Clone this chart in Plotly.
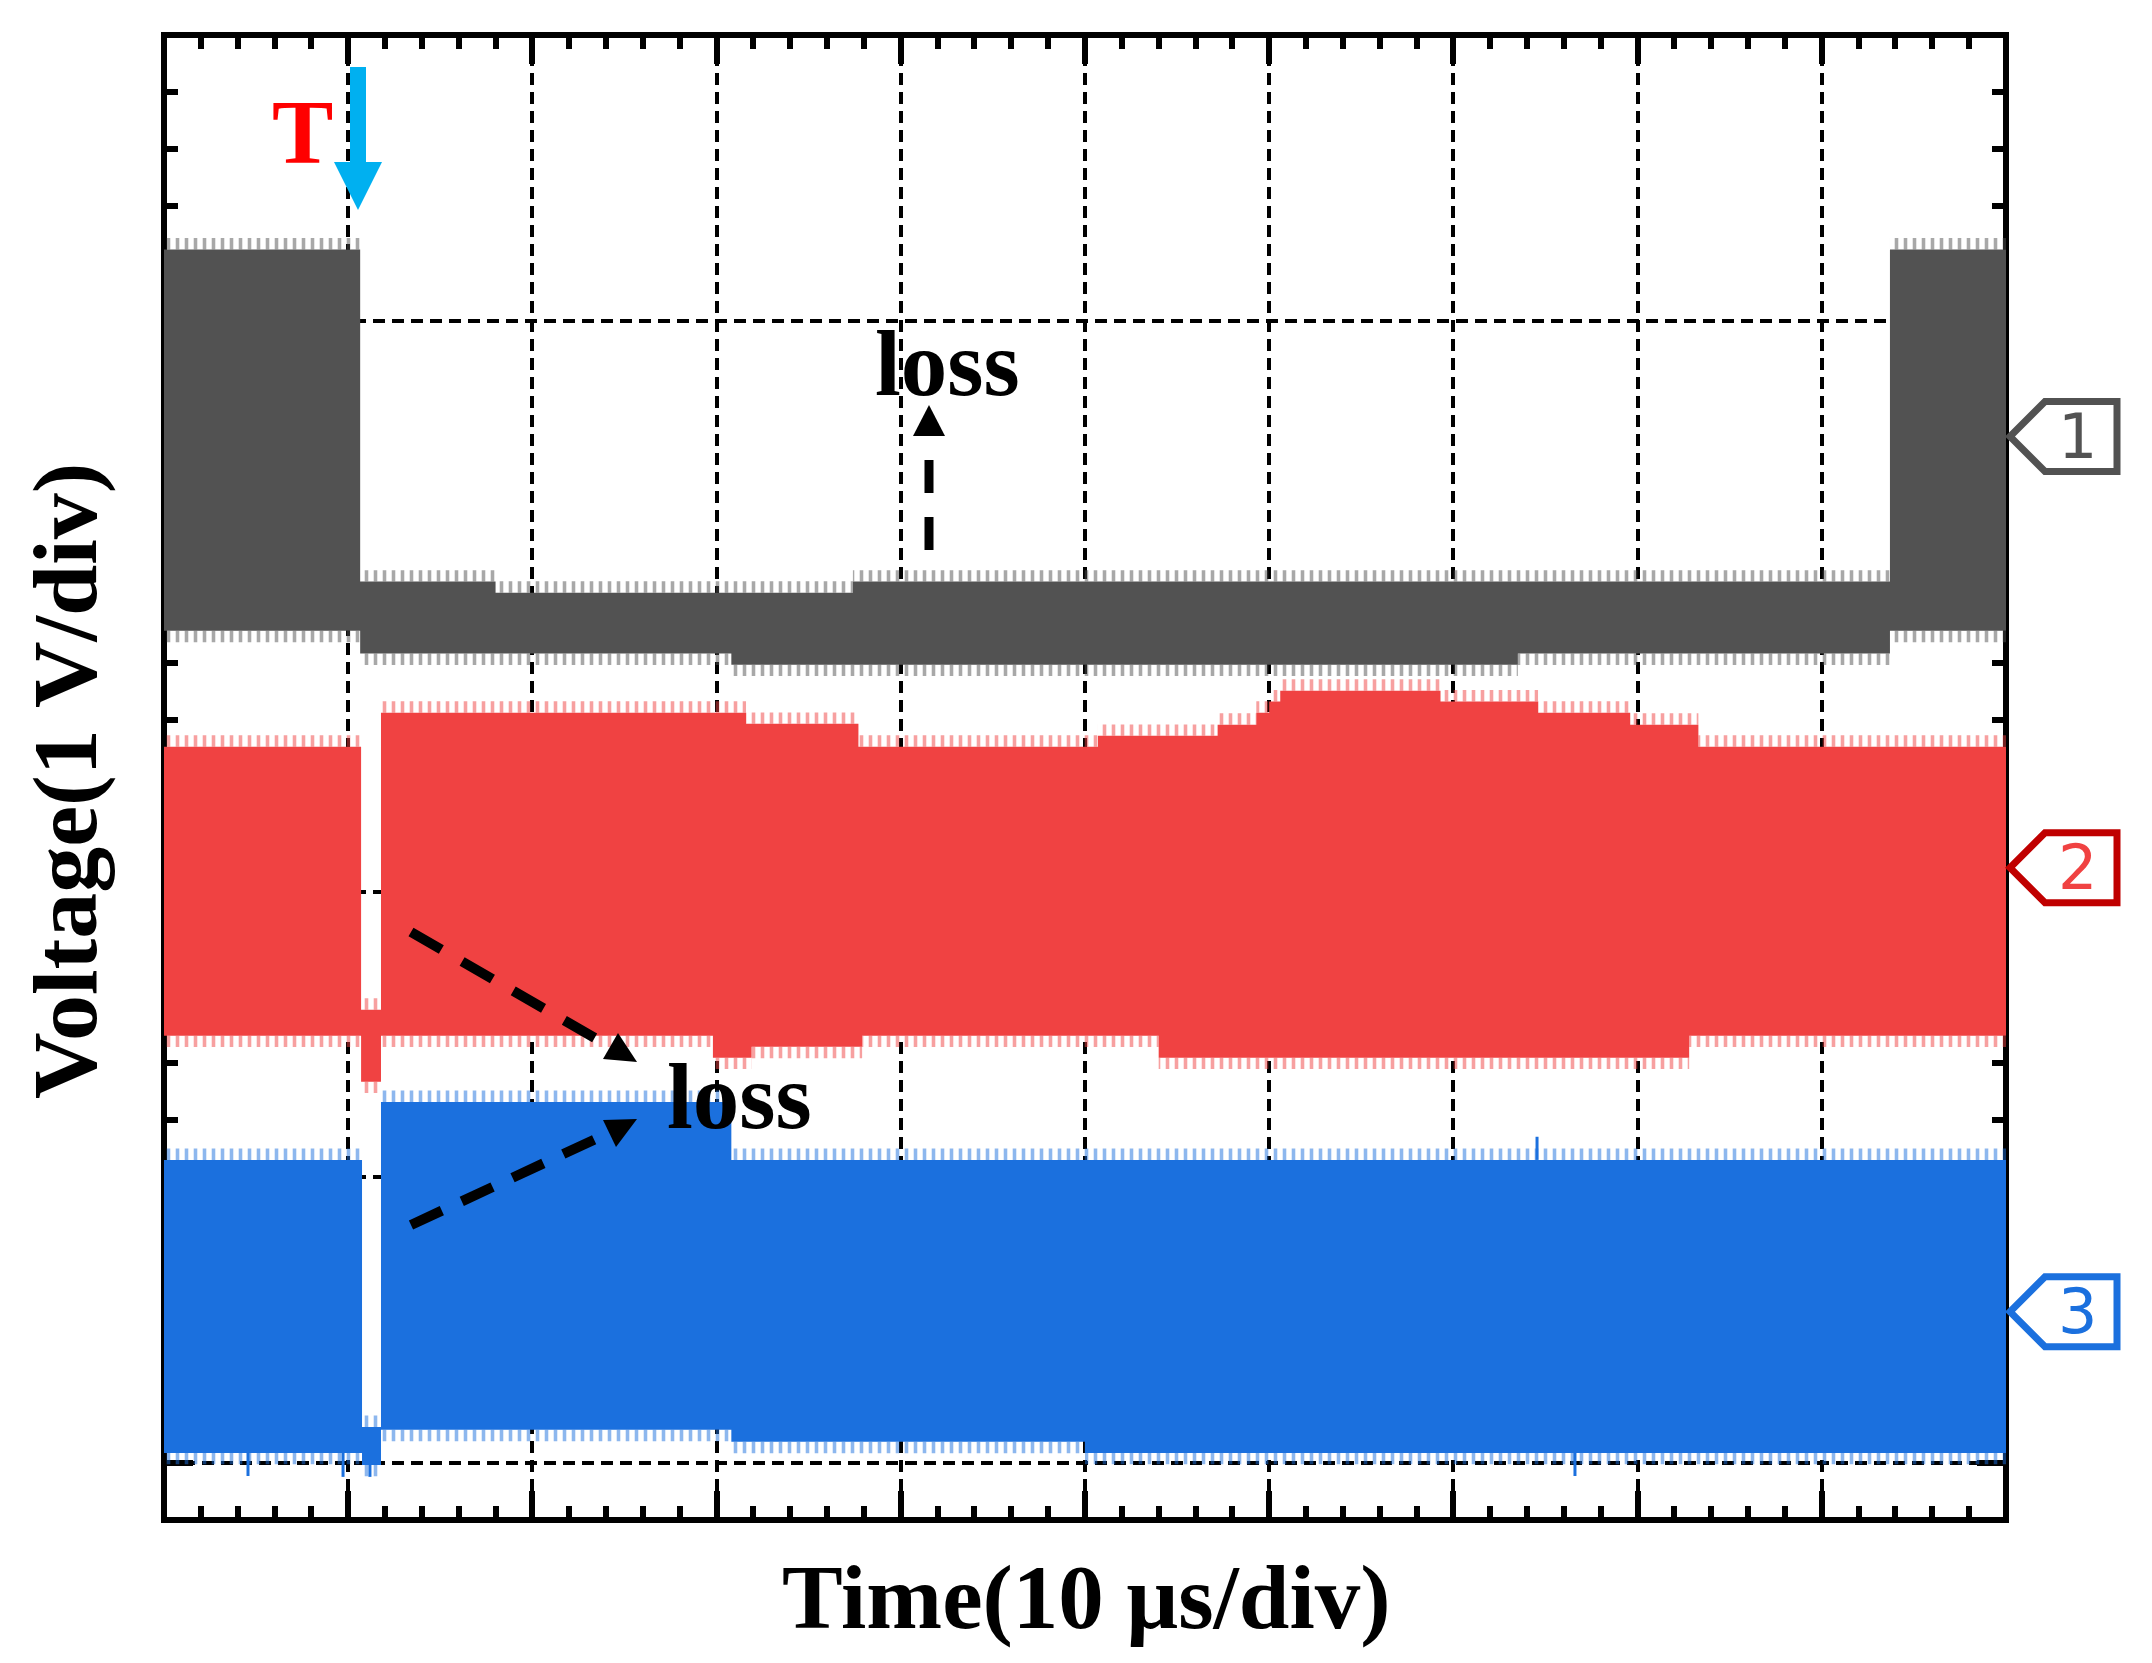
import plotly.graph_objects as go

# ---------------- data (x in time divisions, y in voltage divisions) -------------
# Channel 1 (grey) envelope: step breakpoints and levels
ch1_top_x = [0, 1.065, 1.80, 3.74, 9.37, 10]
ch1_top_v = [4.249, 3.086, 3.047, 3.086, 4.249]
ch1_bot_x = [0, 1.065, 3.08, 7.35, 9.37, 10]
ch1_bot_v = [2.914, 2.834, 2.795, 2.834, 2.914]

# Channel 2 (red)
ch2_top_x = [0, 1.07, 1.178, 3.16, 3.77, 5.07, 5.72, 5.93, 6.00, 6.06, 6.93, 7.46, 7.96, 8.33, 10]
ch2_top_v = [2.508, 1.587, 2.627, 2.588, 2.508, 2.546, 2.585, 2.627, 2.666, 2.704, 2.666, 2.627, 2.585, 2.508]
ch2_bot_x = [0, 1.07, 1.178, 2.98, 3.19, 3.79, 5.40, 8.28, 10]
ch2_bot_v = [1.496, 1.335, 1.496, 1.419, 1.457, 1.496, 1.419, 1.496]

# Channel 3 (blue)
ch3_top_x = [0, 1.075, 1.178, 3.08, 10]
ch3_top_v = [1.061, 0.126, 1.264, 1.061]
ch3_bot_x = [0, 1.075, 1.178, 3.08, 5.0, 10]
ch3_bot_v = [0.035, -0.007, 0.116, 0.074, 0.035]

# isolated long glitches of channel 3 (x, from, to)
ch3_glitch_x = [0.456, 0.972, 1.118, 7.454, 7.660]
ch3_glitch_from = [0.035, 0.035, -0.007, 1.061, 0.035]
ch3_glitch_to = [-0.046, -0.049, -0.049, 1.142, -0.046]

# noise fringe height above/below the dense band (div)
fringe = [0.040, 0.040, 0.040]

# channel ground-reference markers (div)
ch_ref = [3.594, 2.084, 0.529]
ch_labels = ["1", "2", "3"]

colors = ["#525252", "#F04242", "#1B70DE"]
tag_edge = ["#525252", "#C00000", "#1B70DE"]

X_RANGE = [0, 10]
Y_RANGE = [-0.2, 5.0]

# ---------------- layout geometry ----------------
W, H = 2152, 1663
PAGE_OFF = 8                      # default body margin of the html page
PL, PT, PR, PB = 164, 35, 2006, 1520   # plot box in page pixels
PW, PH = PR - PL, PB - PT
L, T = PL - PAGE_OFF, PT - PAGE_OFF
R, B = W - (PR - PAGE_OFF), H - (PB - PAGE_OFF)


def px(X):
    return (X - PL) / PW


def py(Y):
    return (PB - Y) / PH


def step_path(xs, vs, off=0.0):
    sx, sy = [], []
    for i, v in enumerate(vs):
        sx += [xs[i], xs[i + 1]]
        sy += [v + off, v + off]
    return sx, sy


fig = go.Figure()

channels = [
    (ch1_top_x, ch1_top_v, ch1_bot_x, ch1_bot_v),
    (ch2_top_x, ch2_top_v, ch2_bot_x, ch2_bot_v),
    (ch3_top_x, ch3_top_v, ch3_bot_x, ch3_bot_v),
]

for k, (tx_, tv_, bx_, bv_) in enumerate(channels):
    c = colors[k]
    tx, ty = step_path(tx_, tv_)
    bx, by = step_path(bx_, bv_)
    fig.add_trace(go.Scatter(x=tx + bx[::-1], y=ty + by[::-1], fill="toself",
                             fillcolor=c, line=dict(width=0, color=c), mode="lines",
                             hoverinfo="skip", showlegend=False))
    # noise fringes (top and bottom)
    ftx, fty = step_path(tx_, tv_, fringe[k])
    fbx, fby = step_path(bx_, bv_, -fringe[k])
    for (fx, fy, ex, ey) in [(ftx, fty, tx, ty), (fbx, fby, bx, by)]:
        fig.add_trace(go.Scatter(x=fx + ex[::-1], y=fy + ey[::-1], fill="toself",
                                 fillcolor="rgba(0,0,0,0)",
                                 fillpattern=dict(shape="|", fgcolor=c, size=9, solidity=0.4),
                                 line=dict(width=0, color=c), mode="lines",
                                 hoverinfo="skip", showlegend=False))

# isolated glitches
gx, gy = [], []
for x, a, b in zip(ch3_glitch_x, ch3_glitch_from, ch3_glitch_to):
    gx += [x, x, None]
    gy += [a, b, None]
fig.add_trace(go.Scatter(x=gx, y=gy, mode="lines", line=dict(color=colors[2], width=3),
                         hoverinfo="skip", showlegend=False))

axis_common = dict(
    showgrid=True, gridcolor="black", gridwidth=4, griddash="12px,7px",
    showticklabels=False, ticks="inside", ticklen=29, tickwidth=6, tickcolor="black",
    mirror="allticks", showline=False, zeroline=False, layer="below traces",
    tick0=0, dtick=1,
    minor=dict(ticks="inside", ticklen=14, tickwidth=6, tickcolor="black", dtick=0.2,
               tick0=0, showgrid=False),
)

fig.update_xaxes(range=X_RANGE, **axis_common)
fig.update_yaxes(range=Y_RANGE, **axis_common)

shapes = []
# frame
shapes.append(dict(type="rect", xref="paper", yref="paper", x0=0, x1=1, y0=0, y1=1,
                   line=dict(color="black", width=6), layer="below"))

# trigger arrow (blue)
shapes.append(dict(type="path", xref="paper", yref="paper",
                   path=(f"M {px(350)},{py(67)} L {px(366)},{py(67)} L {px(366)},{py(162)} "
                         f"L {px(382)},{py(162)} L {px(358)},{py(210)} L {px(334)},{py(162)} "
                         f"L {px(350)},{py(162)} Z"),
                   fillcolor="#00B0F0", line=dict(width=0), layer="above"))


# dashed arrows
def dashed(x0, y0, x1, y1, w, dash):
    return dict(type="line", xref="paper", yref="paper", x0=px(x0), y0=py(y0),
                x1=px(x1), y1=py(y1), line=dict(color="black", width=w, dash=dash),
                layer="above")


def tri(p):
    (a, b), (c, d), (e, f) = p
    return dict(type="path", xref="paper", yref="paper",
                path=f"M {px(a)},{py(b)} L {px(c)},{py(d)} L {px(e)},{py(f)} Z",
                fillcolor="black", line=dict(width=0), layer="above")


shapes.append(dashed(929, 550, 929, 437, 9, "33px,24px"))
shapes.append(tri([(913, 436), (945, 436), (929, 405)]))
shapes.append(dashed(411, 932, 600, 1041, 10, "35px,24px"))
shapes.append(tri([(618, 1033), (603, 1059), (637, 1062)]))
shapes.append(dashed(411, 1225, 600, 1137, 10, "34px,22px"))
shapes.append(tri([(603, 1120), (637, 1119), (616, 1147)]))

# channel tags on the right
annotations = []
for k, v in enumerate(ch_ref):
    yc = (v - Y_RANGE[0]) / (Y_RANGE[1] - Y_RANGE[0])
    hh = 35 / PH
    tip, bl, br = px(2010), px(2045), px(2117)
    shapes.append(dict(type="path", xref="paper", yref="paper",
                       path=(f"M {tip},{yc} L {bl},{yc + hh} L {br},{yc + hh} "
                             f"L {br},{yc - hh} L {bl},{yc - hh} Z"),
                       fillcolor="rgba(0,0,0,0)", line=dict(color=tag_edge[k], width=7),
                       layer="above"))
    annotations.append(dict(xref="paper", yref="paper", x=px(2077), y=yc, text=ch_labels[k],
                            showarrow=False, xanchor="center", yanchor="middle",
                            font=dict(family="DejaVu Sans", size=62, color=colors[k])))

serif = "Liberation Serif"
annotations += [
    dict(xref="paper", yref="paper", x=px(302), y=py(132), text="<b>T</b>", showarrow=False,
         xanchor="center", yanchor="middle", font=dict(family=serif, size=92, color="#FF0000")),
    dict(xref="paper", yref="paper", x=px(947), y=py(364), text="<b>loss</b>", showarrow=False,
         xanchor="center", yanchor="middle", font=dict(family=serif, size=93, color="black")),
    dict(xref="paper", yref="paper", x=px(739), y=py(1096), text="<b>loss</b>", showarrow=False,
         xanchor="center", yanchor="middle", font=dict(family=serif, size=93, color="black")),
    dict(xref="paper", yref="paper", x=px(1086), y=py(1598), text="<b>Time(10 μs/div)</b>",
         showarrow=False, xanchor="center", yanchor="middle",
         font=dict(family=serif, size=91, color="black")),
    dict(xref="paper", yref="paper", x=px(65), y=py(781), text="<b>Voltage(1 V/div)</b>",
         showarrow=False, xanchor="center", yanchor="middle", textangle=-90,
         font=dict(family=serif, size=92, color="black")),
]

fig.update_layout(
    width=W, height=H, autosize=False,
    margin=dict(l=L, r=R, t=T, b=B, pad=0),
    paper_bgcolor="white", plot_bgcolor="rgba(0,0,0,0)",
    shapes=shapes, annotations=annotations, showlegend=False,
)

fig.write_html("out.html", config={"displayModeBar": False})
